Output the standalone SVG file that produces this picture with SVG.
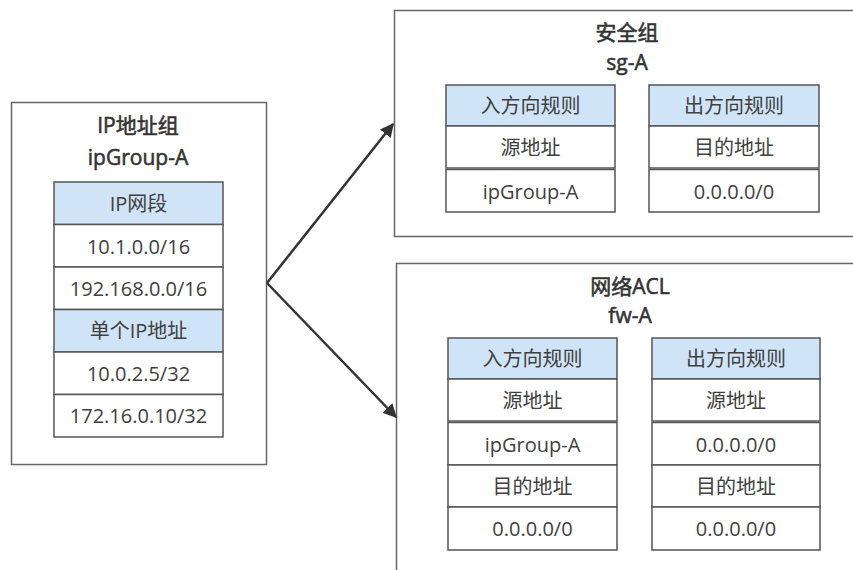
<svg xmlns="http://www.w3.org/2000/svg" width="853" height="570" viewBox="0 0 853 570">
<style>
.box{fill:#fff;stroke:#666;stroke-width:1.5}
.hdr{fill:#d0e4f7;stroke:#555;stroke-width:1.5}
.cell{fill:#fff;stroke:#555;stroke-width:1.5}
text{font-family:"Open Sans","Noto Sans CJK SC",sans-serif;font-size:20px;fill:#404040;text-anchor:middle;dominant-baseline:central}
.t{fill:#333;stroke:#333;stroke-width:0.55;font-size:21px}
.conn{fill:none;stroke:#333;stroke-width:2.5}
</style>
<defs>
<marker id="ah" viewBox="0 0 10 10" refX="9" refY="5" markerWidth="5.5" markerHeight="5.5" orient="auto" markerUnits="strokeWidth">
<path d="M0,0 L10,5 L0,10 Z" fill="#333"/>
</marker>
</defs>
<rect width="853" height="570" fill="#fff"/>

<g id="ipgroup">
<rect class="box" x="11.5" y="102.5" width="255" height="362"/>
<text class="t" x="138" y="125">IP地址组</text>
<text class="t" x="138" y="157">ipGroup-A</text>
<rect class="hdr" x="54" y="182" width="169" height="42.5"/>
<text x="138.5" y="203">IP网段</text>
<rect class="cell" x="54" y="224.5" width="169" height="42.5"/>
<text x="138.5" y="246">10.1.0.0/16</text>
<rect class="cell" x="54" y="267" width="169" height="42.5"/>
<text x="138.5" y="288">192.168.0.0/16</text>
<rect class="hdr" x="54" y="309.5" width="169" height="42.5"/>
<text x="138.5" y="330.5">单个IP地址</text>
<rect class="cell" x="54" y="352" width="169" height="42.5"/>
<text x="138.5" y="373">10.0.2.5/32</text>
<rect class="cell" x="54" y="394.5" width="169" height="42.5"/>
<text x="138.5" y="415.5">172.16.0.10/32</text>
</g>

<g id="sg">
<rect class="box" x="394.5" y="10.5" width="470" height="226"/>
<text class="t" x="627" y="32">安全组</text>
<text class="t" x="627" y="62">sg-A</text>
<rect class="hdr" x="446" y="85" width="169" height="41"/>
<text x="530.5" y="105.5">入方向规则</text>
<rect class="cell" x="446" y="126" width="169" height="42"/>
<text x="530.5" y="147">源地址</text>
<rect class="cell" x="446" y="169.5" width="169" height="42.5"/>
<text x="530.5" y="191">ipGroup-A</text>
<rect class="hdr" x="649" y="85" width="170" height="41"/>
<text x="734" y="105.5">出方向规则</text>
<rect class="cell" x="649" y="126" width="170" height="42"/>
<text x="734" y="147">目的地址</text>
<rect class="cell" x="649" y="169.5" width="170" height="42.5"/>
<text x="734" y="191">0.0.0.0/0</text>
</g>

<g id="acl">
<rect class="box" x="396.5" y="263.5" width="470" height="320"/>
<text class="t" x="630" y="286">网络ACL</text>
<text class="t" x="630" y="315">fw-A</text>
<rect class="hdr" x="448" y="338" width="169" height="41"/>
<text x="532.5" y="358.5">入方向规则</text>
<rect class="cell" x="448" y="379" width="169" height="42"/>
<text x="532.5" y="400">源地址</text>
<rect class="cell" x="448" y="422.5" width="169" height="42.5"/>
<text x="532.5" y="444">ipGroup-A</text>
<rect class="cell" x="448" y="465" width="169" height="42"/>
<text x="532.5" y="486">目的地址</text>
<rect class="cell" x="448" y="507" width="169" height="43"/>
<text x="532.5" y="528.5">0.0.0.0/0</text>
<rect class="hdr" x="652" y="338" width="168" height="41"/>
<text x="736" y="358.5">出方向规则</text>
<rect class="cell" x="652" y="379" width="168" height="42"/>
<text x="736" y="400">源地址</text>
<rect class="cell" x="652" y="422.5" width="168" height="42.5"/>
<text x="736" y="444">0.0.0.0/0</text>
<rect class="cell" x="652" y="465" width="168" height="42"/>
<text x="736" y="486">目的地址</text>
<rect class="cell" x="652" y="507" width="168" height="43"/>
<text x="736" y="528.5">0.0.0.0/0</text>
</g>

<g id="connectors">
<path class="conn" d="M267,283 L393,124" marker-end="url(#ah)"/>
<path class="conn" d="M267,283 L396,417" marker-end="url(#ah)"/>
</g>
</svg>
